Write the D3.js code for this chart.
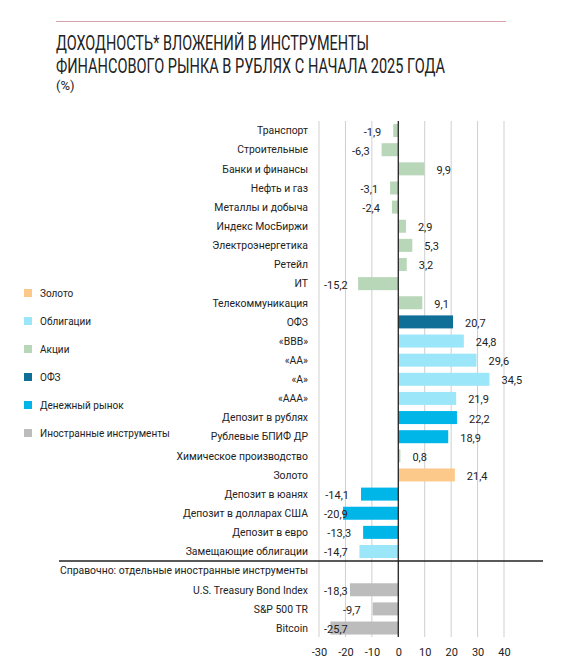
<!DOCTYPE html>
<html>
<head>
<meta charset="utf-8">
<script src="https://cdn.jsdelivr.net/npm/d3@7"></script>
<style>
  body { margin: 0; background: #fff; }
  text { font-family: Roboto, "Noto Sans", sans-serif; fill: #222; }
</style>
</head>
<body>
<div id="chart"></div>
<script>
// categories top to bottom, null value = text-only row
const categories = [
    "Транспорт", "Строительные", "Банки и финансы", "Нефть и газ", "Металлы и добыча",
    "Индекс МосБиржи", "Электроэнергетика", "Ретейл", "ИТ", "Телекоммуникация",
    "ОФЗ", "«BBB»", "«AA»", "«A»", "«AAA»",
    "Депозит в рублях", "Рублевые БПИФ ДР", "Химическое производство", "Золото",
    "Депозит в юанях", "Депозит в долларах США", "Депозит в евро", "Замещающие облигации",
    "Справочно: отдельные иностранные инструменты",
    "U.S. Treasury Bond Index", "S&P 500 TR", "Bitcoin"
];
const values = [
    -1.9, -6.3, 9.9, -3.1, -2.4,
    2.9, 5.3, 3.2, -15.2, 9.1,
    20.7, 24.8, 29.6, 34.5, 21.9,
    22.2, 18.9, 0.8, 21.4,
    -14.1, -20.9, -13.3, -14.7,
    null,
    -18.3, -9.7, -25.7
];
const groups = [
    "Акции", "Акции", "Акции", "Акции", "Акции",
    "Акции", "Акции", "Акции", "Акции", "Акции",
    "ОФЗ", "Облигации", "Облигации", "Облигации", "Облигации",
    "Денежный рынок", "Денежный рынок", "Акции", "Золото",
    "Денежный рынок", "Денежный рынок", "Денежный рынок", "Облигации",
    null,
    "Иностранные инструменты", "Иностранные инструменты", "Иностранные инструменты"
];
const legendGroups = ["Золото", "Облигации", "Акции", "ОФЗ", "Денежный рынок", "Иностранные инструменты"];
const groupColors = ["#fcc98b", "#9be6f8", "#b8d6b8", "#0f6f96", "#00b5e8", "#bcbcbc"];
const xTicks = [-30, -20, -10, 0, 10, 20, 30, 40];

const W = 562, H = 670;
const svg = d3.select("#chart").append("svg")
    .attr("width", W)
    .attr("height", H);

const color = d3.scaleOrdinal().domain(legendGroups).range(groupColors);
const fmt = v => v.toFixed(1).replace(".", ",");

// top rule
svg.append("line")
    .attr("x1", 56).attr("x2", 506)
    .attr("y1", 21.5).attr("y2", 21.5)
    .attr("stroke", "#d9a3ab")
    .attr("stroke-width", 1);

// title (condensed look)
const title = svg.append("g").attr("transform", "translate(56,0)");
title.append("text")
    .attr("y", 50)
    .attr("textLength", 313).attr("lengthAdjust", "spacingAndGlyphs")
    .style("font-size", "20px")
    .text("ДОХОДНОСТЬ* ВЛОЖЕНИЙ В ИНСТРУМЕНТЫ");
title.append("text")
    .attr("y", 73)
    .attr("textLength", 389).attr("lengthAdjust", "spacingAndGlyphs")
    .style("font-size", "20px")
    .text("ФИНАНСОВОГО РЫНКА В РУБЛЯХ С НАЧАЛА 2025 ГОДА");
title.append("text")
    .attr("y", 90)
    .style("font-size", "13px")
    .text("(%)");

// scales
const x = d3.scaleLinear().domain([-30, 40]).range([319, 504]);
const y = d3.scaleBand()
    .domain(d3.range(categories.length))
    .range([121, 637.6])
    .paddingInner(0.32)
    .paddingOuter(0.16);

// grid
svg.append("g")
    .selectAll("line")
    .data(xTicks.filter(d => d !== 0))
    .enter()
    .append("line")
    .attr("x1", d => x(d)).attr("x2", d => x(d))
    .attr("y1", 121).attr("y2", 637)
    .attr("stroke", "#cfcfcf")
    .attr("stroke-width", 1);

const rows = categories.map((c, i) => ({ name: c, value: values[i], group: groups[i], i: i }));
const barRows = rows.filter(d => d.value !== null);

// bars
svg.append("g")
    .selectAll("rect")
    .data(barRows)
    .enter()
    .append("rect")
    .attr("x", d => x(Math.min(0, d.value)))
    .attr("y", d => y(d.i))
    .attr("width", d => Math.abs(x(d.value) - x(0)))
    .attr("height", y.bandwidth())
    .attr("fill", d => color(d.group));

// category labels
svg.append("g")
    .selectAll("text")
    .data(rows)
    .enter()
    .append("text")
    .attr("x", 308)
    .attr("y", d => y(d.i) + y.bandwidth() / 2)
    .attr("dy", "0.36em")
    .attr("text-anchor", "end")
    .style("font-size", "10.4px")
    .text(d => d.name);

// value labels
const labels = svg.append("g")
    .selectAll("text")
    .data(barRows)
    .enter()
    .append("text")
    .attr("y", d => y(d.i) + y.bandwidth() / 2 + 1)
    .attr("dy", "0.36em")
    .style("font-size", "11px")
    .text(d => fmt(d.value));

labels.each(function(d) {
    const t = d3.select(this);
    if (d.value >= 0) {
        t.attr("text-anchor", "start").attr("x", x(d.value) + 12);
    } else {
        const w = this.getComputedTextLength();
        // keep label inside the plot when the bar is long
        const end = Math.max(x(d.value) - 12, x(-30) + 5 + w);
        t.attr("text-anchor", "end").attr("x", end);
    }
});

// zero line
svg.append("line")
    .attr("x1", x(0)).attr("x2", x(0))
    .attr("y1", 121).attr("y2", 637)
    .attr("stroke", "#222")
    .attr("stroke-width", 1.3);

// separator between domestic and foreign instruments
const sepY = y(23) - y.step() * y.paddingInner() / 2;
svg.append("line")
    .attr("x1", 59).attr("x2", 543)
    .attr("y1", sepY).attr("y2", sepY)
    .attr("stroke", "#222")
    .attr("stroke-width", 1.5);

// x axis
const axis = svg.append("g")
    .attr("transform", "translate(0,645)")
    .call(d3.axisBottom(x).tickValues(xTicks).tickSize(0).tickFormat(d => String(d)));
axis.select(".domain").remove();
axis.selectAll("text")
    .style("font-family", "Roboto, sans-serif")
    .style("font-size", "11px")
    .attr("fill", "#222");

// legend
const legend = svg.append("g")
    .selectAll("g")
    .data(legendGroups)
    .enter()
    .append("g")
    .attr("transform", (d, i) => `translate(24, ${293 + i * 28})`);
legend.append("rect")
    .attr("x", 0).attr("y", -4)
    .attr("width", 8).attr("height", 8)
    .attr("fill", d => color(d));
legend.append("text")
    .attr("x", 16)
    .attr("dy", "0.36em")
    .style("font-size", "10px")
    .text(d => d);
</script>
</body>
</html>
